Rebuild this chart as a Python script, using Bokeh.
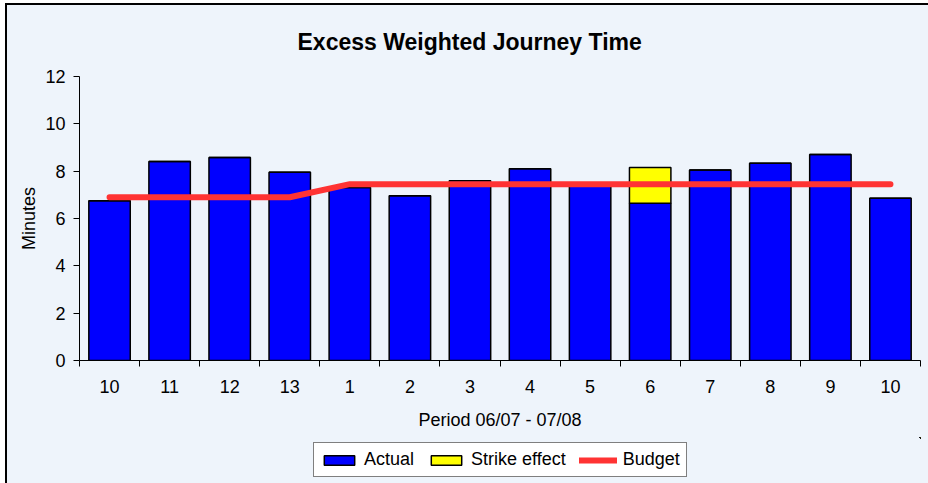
from bokeh.plotting import figure
from bokeh.layouts import column
from bokeh.models import FixedTicker, Legend, LegendItem, ColumnDataSource, Range1d
from bokeh.embed import file_html
from bokeh.resources import INLINE

periods = ["10", "11", "12", "13", "1", "2", "3", "4", "5", "6", "7", "8", "9", "10"]
actual = [6.75, 8.41, 8.58, 7.95, 7.31, 6.96, 7.60, 8.10, 7.40, 6.64, 8.05, 8.33, 8.70, 6.86]
strike = [0, 0, 0, 0, 0, 0, 0, 0, 0, 1.51, 0, 0, 0, 0]
budget = [6.9, 6.9, 6.9, 6.9, 7.45, 7.45, 7.45, 7.45, 7.45, 7.45, 7.45, 7.45, 7.45, 7.45]
y_ticks = [0, 2, 4, 6, 8, 10, 12]
series_names = ["Actual", "Strike effect", "Budget"]

FONT = "Liberation Sans"
BG = "#EEF4FB"
C_ACT, C_STR, C_BUD = "#0000FF", "#FFFF00", "#FF3333"

xs = [i + 0.5 for i in range(len(periods))]
src = ColumnDataSource(dict(
    x=xs,
    actual=actual,
    strike=strike,
    budget=budget,
    top2=[a + s for a, s in zip(actual, strike)],
))

p = figure(width=921, height=432, output_backend="svg", toolbar_location=None,
           x_range=Range1d(0, len(periods)), y_range=Range1d(0, 12),
           min_border_left=72, min_border_right=8, min_border_top=71, min_border_bottom=77)
p.background_fill_color = BG
p.border_fill_color = BG
p.outline_line_color = None
p.grid.visible = False

p.title.text = "Excess Weighted Journey Time"
p.title.align = "left"
p.title.offset = 218
p.title.text_font = FONT
p.title.text_font_size = "23px"
p.title.text_font_style = "bold"
p.title.text_color = "#000000"
p.title.standoff = 43


def draw_series(fig):
    a = fig.vbar(x="x", top="actual", bottom=0, width=0.69, source=src,
                 fill_color=C_ACT, line_color="#000000", line_width=1.5)
    s = fig.vbar(x="x", top="top2", bottom="actual", width=0.69, source=src,
                 fill_color=C_STR, line_color="#000000", line_width=1.5)
    b = fig.line(x="x", y="budget", source=src, line_color=C_BUD, line_width=6,
                 line_cap="round", line_join="round")
    return a, s, b


draw_series(p)

# x axis
xa = p.xaxis[0]
xa.ticker = FixedTicker(ticks=xs, minor_ticks=list(range(len(periods) + 1)))
xa.major_label_overrides = {x: lab for x, lab in zip(xs, periods)}
xa.major_tick_out = 6
xa.major_tick_in = 0
xa.minor_tick_line_color = "#000000"
xa.minor_tick_out = 6
xa.minor_tick_in = 0
xa.major_label_standoff = 13
xa.axis_label = "Period 06/07 - 07/08"
xa.axis_label_standoff = 14

ya = p.yaxis[0]
ya.ticker = FixedTicker(ticks=y_ticks)
ya.major_tick_out = 6
ya.major_tick_in = 0
ya.minor_tick_line_color = None
ya.major_label_standoff = 8
ya.axis_label = "Minutes"
ya.axis_label_standoff = 3

for ax in (xa, ya):
    ax.axis_line_color = "#000000"
    ax.major_label_text_font = FONT
    ax.major_label_text_font_size = "18px"
    ax.major_label_text_color = "#000000"
    ax.axis_label_text_font = FONT
    ax.axis_label_text_font_size = "18px"
    ax.axis_label_text_font_style = "normal"
    ax.axis_label_text_color = "#000000"
xa.major_tick_line_color = None
ya.major_tick_line_color = "#000000"

# legend strip (its series are drawn outside its visible ranges; only the legend shows)
pl = figure(width=921, height=46, output_backend="svg", toolbar_location=None,
            x_axis_type=None, y_axis_type=None,
            x_range=Range1d(-200, -100), y_range=Range1d(-200, -100),
            min_border_left=0, min_border_right=0, min_border_top=0, min_border_bottom=0)
pl.background_fill_color = BG
pl.border_fill_color = BG
pl.outline_line_color = None
pl.grid.visible = False
l_act, l_str, l_bud = draw_series(pl)

legend = Legend(items=[LegendItem(label=n, renderers=[r]) for n, r in
                       zip(series_names, [l_act, l_str, l_bud])],
                orientation="horizontal", location=(234, 6))
legend.label_text_font = FONT
legend.label_text_font_size = "18px"
legend.label_text_color = "#000000"
legend.glyph_width = 38
legend.glyph_height = 12
legend.label_standoff = 6
legend.spacing = 13
legend.padding = 6
legend.margin = 0
legend.border_line_color = "#000000"
legend.border_line_width = 1
legend.background_fill_color = "#FFFFFF"
legend.background_fill_alpha = 1.0
pl.add_layout(legend, "center")

layout = column(p, pl, spacing=0)
layout.styles = {"border-top": "2px solid #000", "border-left": "2px solid #000",
                 "margin-top": "3px", "margin-left": "5px", "background-color": BG}

open("out.html", "w").write(file_html(layout, INLINE))
